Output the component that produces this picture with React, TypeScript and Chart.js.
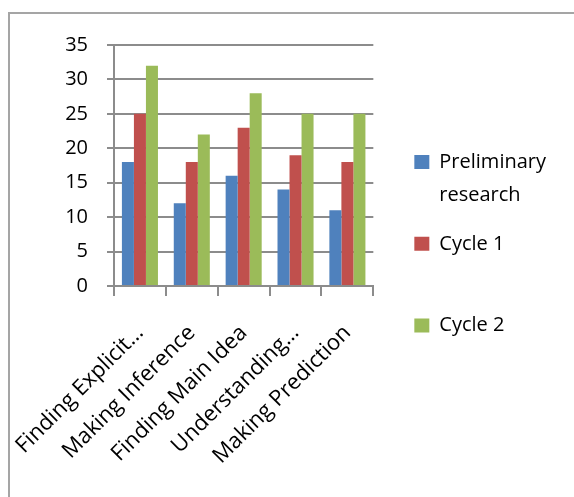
import React, { useEffect, useRef } from "react";
import { Chart, registerables } from "chart.js";

Chart.register(...registerables);

// reading skills assessed
const categories = [
  "Finding Explicit…",
  "Making Inference",
  "Finding Main Idea",
  "Understanding…",
  "Making Prediction",
];

// scores per stage
const preliminary = [18, 12, 16, 14, 11];
const cycle1 = [25, 18, 23, 19, 18];
const cycle2 = [32, 22, 28, 25, 25];

const seriesNames = ["Preliminary research", "Cycle 1", "Cycle 2"];
// how each name is broken in the legend (the blank line keeps the spacing)
const legendLines = [["Preliminary", "research"], ["Cycle 1", ""], ["Cycle 2"]];

const yMax = 35;
const yStep = 5;

const FONT = "'Open Sans', sans-serif";
const GRID = "#8c8c8c";

export default function App() {
  const canvas = useRef<HTMLCanvasElement>(null);

  useEffect(() => {
    const context2d = canvas.current?.getContext("2d");
    if (!context2d) return;

    const chart = new Chart(context2d, {
      type: "bar",
      data: {
        labels: categories,
        datasets: [
          { label: seriesNames[0], data: preliminary, backgroundColor: "#4F81BD" },
          { label: seriesNames[1], data: cycle1, backgroundColor: "#C0504D" },
          { label: seriesNames[2], data: cycle2, backgroundColor: "#9BBB59" },
        ],
      },
      options: {
        responsive: false,
        animation: false,
        layout: { padding: { top: 28, left: 0, right: 18, bottom: 0 } },
        datasets: { bar: { categoryPercentage: 0.695, barPercentage: 1 } },
        scales: {
          x: {
            grid: { drawOnChartArea: false, tickLength: 10, color: GRID, lineWidth: 2 },
            border: { color: GRID, width: 2 },
            ticks: {
              color: "#000",
              font: { family: FONT, size: 22 },
              minRotation: 45,
              maxRotation: 45,
              autoSkip: false,
              padding: 24,
            },
            afterFit: (s: any) => {
              s.height = 211;
              s.paddingLeft = 0;
              s.paddingRight = 0;
            },
          },
          y: {
            min: 0,
            max: yMax,
            ticks: { stepSize: yStep, color: "#000", font: { family: FONT, size: 20 }, padding: 19 },
            grid: { color: GRID, lineWidth: 2, tickLength: 7 },
            border: { color: GRID, width: 2 },
            afterFit: (s: any) => { s.width = 104; },
          },
          // empty axis that only makes room between the plot and the legend
          spacer: {
            position: "right",
            grid: { display: false },
            ticks: { display: false },
            border: { display: false },
            afterFit: (s: any) => { s.width = 26; },
          },
        },
        plugins: {
          tooltip: { enabled: false },
          legend: {
            position: "right",
            align: "start",
            maxWidth: 400,
            title: {
              display: true,
              text: "",
              padding: { top: 85, bottom: 0 },
              font: { size: 10, lineHeight: 1 },
            },
            labels: {
              boxWidth: 15,
              boxHeight: 14,
              padding: 15,
              color: "#000",
              font: { family: FONT, size: 20, lineHeight: 1.67 },
              generateLabels: (c: Chart) =>
                Chart.defaults.plugins.legend.labels
                  .generateLabels(c)
                  .map((item: any, i: number) => ({ ...item, text: legendLines[i], lineWidth: 0 })),
            },
          },
        },
      },
    } as any);

    return () => chart.destroy();
  });

  return (
    <div
      style={{
        position: "fixed",
        top: 12,
        left: 8,
        width: 566,
        height: 485,
        boxSizing: "border-box",
        borderTop: "2px solid #a5a5a5",
        borderLeft: "2px solid #a5a5a5",
        background: "#fff",
        overflow: "hidden",
      }}
    >
      <canvas ref={canvas} width={564} height={483} style={{ display: "block" }} />
    </div>
  );
}
